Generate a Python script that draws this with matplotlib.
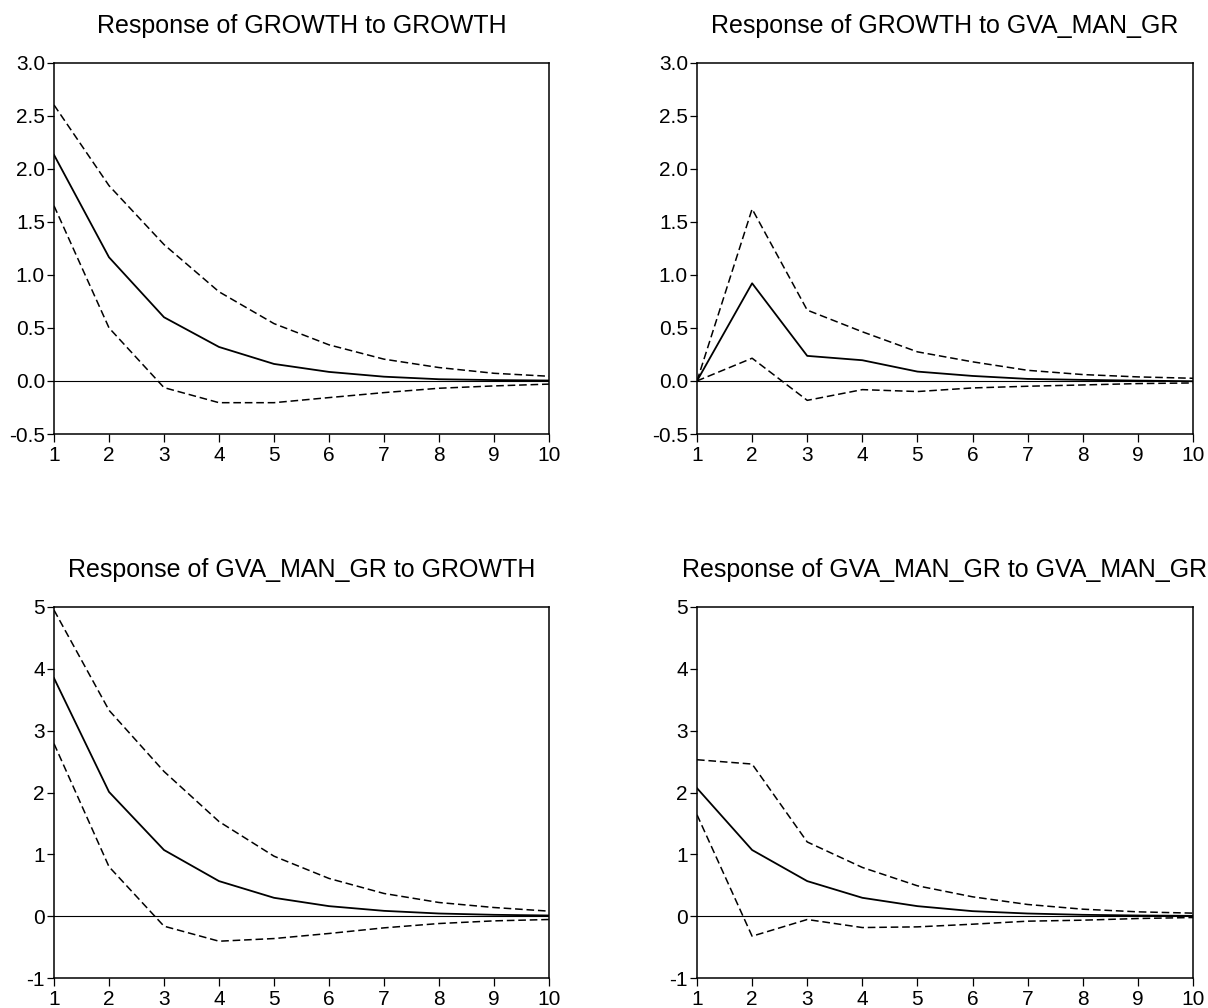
import numpy as np
import matplotlib
matplotlib.use("Agg")
import matplotlib.pyplot as plt

plt.rcParams['font.family'] = ['Liberation Sans', 'DejaVu Sans']
plt.rcParams['axes.unicode_minus'] = False

periods = np.arange(1, 11)

# GROWTH to GROWTH
g_g = [2.13, 1.165, 0.60, 0.32, 0.16, 0.085, 0.04, 0.016, 0.008, 0.004]
g_g_up = [2.60, 1.84, 1.285, 0.84, 0.54, 0.34, 0.205, 0.126, 0.072, 0.044]
g_g_lo = [1.65, 0.50, -0.063, -0.205, -0.205, -0.157, -0.11, -0.069, -0.047, -0.03]

# GROWTH to GVA_MAN_GR
g_m = [0.0, 0.92, 0.236, 0.195, 0.088, 0.047, 0.019, 0.01, 0.003, -0.003]
g_m_up = [0.0, 1.62, 0.667, 0.463, 0.274, 0.18, 0.10, 0.06, 0.038, 0.025]
g_m_lo = [0.0, 0.214, -0.183, -0.082, -0.10, -0.066, -0.05, -0.038, -0.025, -0.019]

# GVA_MAN_GR to GROWTH
m_g = [3.85, 2.01, 1.07, 0.567, 0.297, 0.162, 0.086, 0.043, 0.022, 0.011]
m_g_up = [4.95, 3.33, 2.34, 1.53, 0.97, 0.61, 0.367, 0.221, 0.14, 0.081]
m_g_lo = [2.79, 0.80, -0.162, -0.405, -0.362, -0.28, -0.189, -0.119, -0.076, -0.054]

# GVA_MAN_GR to GVA_MAN_GR
m_m = [2.07, 1.07, 0.567, 0.297, 0.162, 0.081, 0.043, 0.022, 0.011, 0.005]
m_m_up = [2.53, 2.46, 1.20, 0.788, 0.491, 0.313, 0.189, 0.113, 0.07, 0.049]
m_m_lo = [1.64, -0.324, -0.054, -0.184, -0.173, -0.13, -0.081, -0.065, -0.038, -0.022]

titles = ["Response of GROWTH to GROWTH",
          "Response of GROWTH to GVA_MAN_GR",
          "Response of GVA_MAN_GR to GROWTH",
          "Response of GVA_MAN_GR to GVA_MAN_GR"]

top_ticks = [-0.5, 0.0, 0.5, 1.0, 1.5, 2.0, 2.5, 3.0]
top_labels = ["-0.5", "0.0", "0.5", "1.0", "1.5", "2.0", "2.5", "3.0"]
bot_ticks = [-1, 0, 1, 2, 3, 4, 5]
bot_labels = ["-1", "0", "1", "2", "3", "4", "5"]

panels = [
    (g_g, g_g_up, g_g_lo, top_ticks, top_labels),
    (g_m, g_m_up, g_m_lo, top_ticks, top_labels),
    (m_g, m_g_up, m_g_lo, bot_ticks, bot_labels),
    (m_m, m_m_up, m_m_lo, bot_ticks, bot_labels),
]

W, H = 1208, 1008
fig = plt.figure(figsize=(W / 100, H / 100), dpi=100)

# axes boxes in pixels: left, top, right, bottom
boxes = [(54, 62.5, 549, 434), (697, 62.5, 1193, 434),
         (54, 607, 549, 978), (697, 607, 1193, 978)]

for (resp, up, lo, yt, yl), box, title in zip(panels, boxes, titles):
    l, t, r, b = box
    ax = fig.add_axes([l / W, (H - b) / H, (r - l) / W, (b - t) / H])
    ax.plot(periods, resp, color='black', lw=1.3)
    ax.plot(periods, up, color='black', lw=1.1, dashes=(5, 2.5))
    ax.plot(periods, lo, color='black', lw=1.1, dashes=(5, 2.5))
    ax.axhline(0, color='black', lw=0.8)
    ax.set_xlim(1, 10)
    ax.set_ylim(yt[0], yt[-1])
    ax.set_xticks(periods)
    ax.set_yticks(yt)
    ax.set_yticklabels(yl)
    ax.tick_params(axis='x', direction='out', length=6, width=0.9,
                   labelsize=15, pad=2.5, top=False)
    ax.tick_params(axis='y', direction='out', length=5, width=0.9,
                   labelsize=15, pad=1.5, right=False)
    for sp in ax.spines.values():
        sp.set_linewidth(1.1)
    ax.text(0.5, 1 + 30 / (b - t), title, transform=ax.transAxes,
            ha='center', va='baseline', fontsize=18)

fig.savefig("out.png", dpi=100)
